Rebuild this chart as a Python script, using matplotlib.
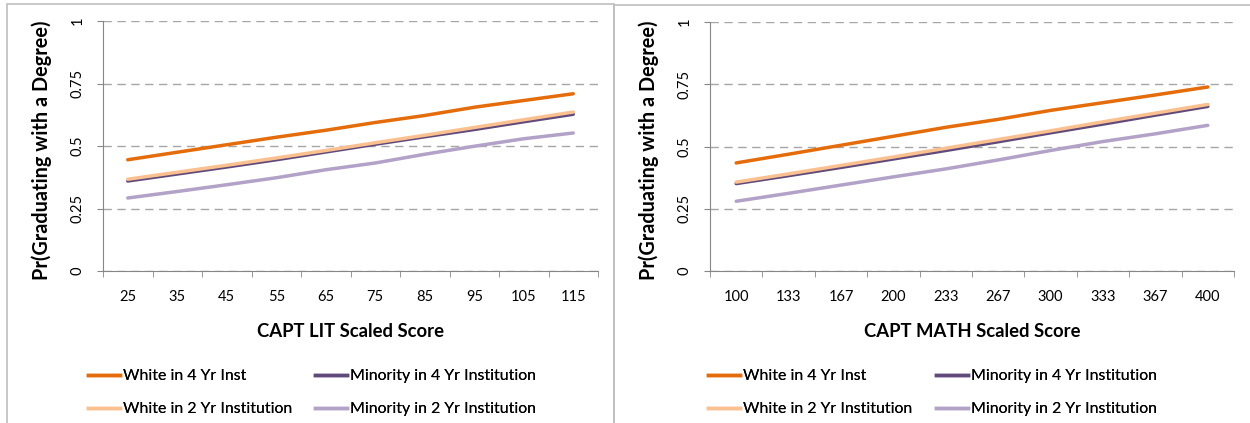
import matplotlib.pyplot as plt
from matplotlib.lines import Line2D
from matplotlib.patches import Rectangle

# Data
lit_scores = ["25", "35", "45", "55", "65", "75", "85", "95", "105", "115"]
math_scores = ["100", "133", "167", "200", "233", "267", "300", "333", "367", "400"]

lit_white_4yr = [0.445, 0.475, 0.505, 0.535, 0.563, 0.594, 0.622, 0.655, 0.682, 0.709]
lit_white_2yr = [0.367, 0.395, 0.423, 0.452, 0.482, 0.513, 0.543, 0.574, 0.605, 0.636]
lit_minority_4yr = [0.360, 0.388, 0.416, 0.445, 0.476, 0.507, 0.537, 0.566, 0.597, 0.627]
lit_minority_2yr = [0.292, 0.318, 0.345, 0.373, 0.405, 0.432, 0.467, 0.499, 0.529, 0.552]

math_white_4yr = [0.434, 0.469, 0.505, 0.541, 0.577, 0.609, 0.645, 0.676, 0.707, 0.739]
math_white_2yr = [0.357, 0.390, 0.424, 0.458, 0.493, 0.528, 0.563, 0.599, 0.634, 0.669]
math_minority_4yr = [0.351, 0.383, 0.416, 0.450, 0.484, 0.519, 0.555, 0.590, 0.626, 0.661]
math_minority_2yr = [0.280, 0.312, 0.345, 0.378, 0.410, 0.446, 0.484, 0.520, 0.551, 0.585]

series_names = ["White in 4 Yr Inst", "Minority in 4 Yr Institution",
                "White in 2 Yr Institution", "Minority in 2 Yr Institution"]
series_colors = ["#E46C0A", "#604A7B", "#FAC090", "#B3A2C7"]

plt.rcParams['font.family'] = ['Lato', 'DejaVu Sans']

W, H = 1250, 423
fig = plt.figure(figsize=(12.5, 4.23), dpi=100)


def fig_rect(x0, y0, x1, y1):
    # pixel box (top-left origin) -> figure fraction [left, bottom, width, height]
    return [x0 / W, 1 - y1 / H, (x1 - x0) / W, (y1 - y0) / H]


# Panel frames
fig.patches.append(Rectangle((7 / W, -0.1), (614 - 7) / W, 1.1 - 4 / H,
                             transform=fig.transFigure, fill=False,
                             edgecolor='#BFBFBF', linewidth=1.2))
fig.patches.append(Rectangle((614 / W, -0.1), 0.6, 1.1 - 5 / H,
                             transform=fig.transFigure, fill=False,
                             edgecolor='#BFBFBF', linewidth=1.2))


def draw_panel(box, cats, series, xlabel, ylabel_x, legend_cols):
    ax = fig.add_axes(fig_rect(*box))
    xs = list(range(len(cats)))
    for vals, color in zip(series, series_colors):
        ax.plot(xs, vals, color=color, linewidth=2.5, solid_capstyle='round', zorder=3)
    ax.set_xlim(-0.5, len(cats) - 0.5)
    ax.set_ylim(0, 1)
    ax.set_yticks([0, 0.25, 0.5, 0.75, 1])
    ax.set_yticklabels(["0", "0.25", "0.5", "0.75", "1"], rotation=90, va='center')
    ax.set_xticks(xs)
    ax.set_xticklabels(cats)
    ax.set_xticks([x - 0.5 for x in range(len(cats) + 1)], minor=True)
    ax.tick_params(axis='x', which='major', length=0, pad=14, labelsize=10.5)
    ax.tick_params(axis='x', which='minor', length=4, color='#868686')
    ax.tick_params(axis='y', length=4, color='#868686', labelsize=10.5, pad=9)
    for s in ['top', 'right']:
        ax.spines[s].set_visible(False)
    for s in ['left', 'bottom']:
        ax.spines[s].set_color('#868686')
    ax.grid(True, axis='y', linestyle=(0, (6, 4)), color='#A6A6A6', linewidth=1, zorder=1)
    ax.set_xlabel(xlabel, fontsize=13.3, fontweight='bold', labelpad=13)
    fig.text(ylabel_x / W, 1 - 150 / H, "Pr(Graduating with a Degree)", rotation=90,
             fontsize=14.3, fontweight='bold', ha='center', va='center')
    handles = [Line2D([], [], color=c, linewidth=2.5) for c in series_colors]
    # two legend columns: 4 Yr on the top row, 2 Yr on the bottom row
    for col, x0 in enumerate(legend_cols):
        idx = [col, col + 2]
        leg = fig.legend([handles[i] for i in idx], [series_names[i] for i in idx],
                         loc='upper left', bbox_to_anchor=(x0 / W, 1 - 369 / H),
                         frameon=False, fontsize=11.4, handlelength=2.0, handletextpad=0.2,
                         labelspacing=1.2, borderaxespad=0, borderpad=0)
        fig.add_artist(leg)
    return ax


draw_panel((103, 21, 598, 271), lit_scores,
           [lit_white_4yr, lit_minority_4yr, lit_white_2yr, lit_minority_2yr],
           "CAPT LIT Scaled Score", 42, (88, 315))
draw_panel((710, 22, 1234, 271), math_scores,
           [math_white_4yr, math_minority_4yr, math_white_2yr, math_minority_2yr],
           "CAPT MATH Scaled Score", 649, (708, 936))

plt.savefig("out.png", dpi=100)
